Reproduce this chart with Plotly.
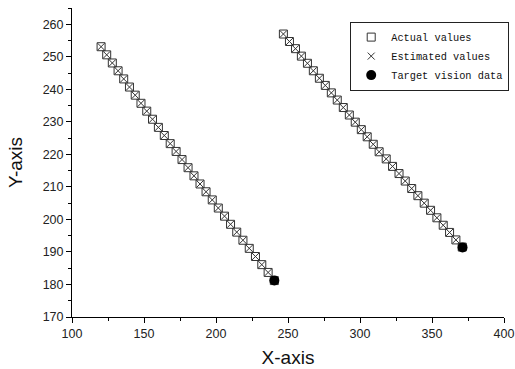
import plotly.graph_objects as go

# Left trajectory
left_x = [120.2, 124.1, 128.0, 132.0, 135.9, 139.9, 143.9, 147.9, 151.9, 155.9,
          160.0, 164.1, 168.2, 172.3, 176.4, 180.6, 184.7, 188.9, 193.1, 197.4,
          201.6, 205.9, 210.1, 214.4, 218.7, 223.1, 227.4, 231.8, 236.2, 240.5]
left_y = [253.1, 250.6, 248.1, 245.7, 243.2, 240.7, 238.2, 235.7, 233.3, 230.8,
          228.3, 225.8, 223.3, 220.9, 218.4, 215.9, 213.4, 210.9, 208.5, 206.0,
          203.5, 201.0, 198.5, 196.1, 193.6, 191.1, 188.6, 186.1, 183.7, 181.2]

# Right trajectory
right_x = [246.8, 251.0, 255.2, 259.3, 263.5, 267.6, 271.8, 275.9, 280.1, 284.2,
           288.4, 292.6, 296.7, 300.9, 305.0, 309.2, 313.3, 318.2, 322.6, 327.1,
           331.4, 335.9, 340.2, 344.6, 349.0, 353.4, 357.8, 362.2, 366.6, 371.0]
right_y = [257.0, 254.7, 252.5, 250.2, 248.0, 245.7, 243.4, 241.2, 238.9, 236.7,
           234.4, 232.1, 229.9, 227.6, 225.4, 223.1, 220.8, 218.6, 216.3, 214.1,
           211.8, 209.5, 207.3, 205.0, 202.8, 200.5, 198.2, 196.0, 193.7, 191.5]

actual_x = left_x + [None] + right_x
actual_y = left_y + [None] + right_y
estimated_x = left_x + [None] + right_x
estimated_y = left_y + [None] + right_y

target_x = [240.5, 371.2]
target_y = [181.2, 191.4]

x_ticks = [100, 150, 200, 250, 300, 350, 400]
y_ticks = [170, 180, 190, 200, 210, 220, 230, 240, 250, 260]

fig = go.Figure()
fig.add_trace(go.Scatter(
    x=actual_x, y=actual_y, mode="markers", name="Actual values",
    marker=dict(symbol="square-open", size=8, color="#333333",
                line=dict(width=1, color="#333333")),
))
fig.add_trace(go.Scatter(
    x=estimated_x, y=estimated_y, mode="markers", name="Estimated values",
    marker=dict(symbol="x-thin-open", size=7, color="#333333",
                line=dict(width=1, color="#333333")),
))
fig.add_trace(go.Scatter(
    x=target_x, y=target_y, mode="markers", name="Target vision data",
    marker=dict(symbol="circle", size=10, color="black"),
))

axis_font = dict(family="Liberation Sans, Arial, sans-serif", size=12.5, color="#222222")
title_font = dict(family="Liberation Sans, Arial, sans-serif", size=19, color="#111111")

fig.update_layout(
    width=515, height=369,
    margin=dict(l=71.5, r=11, t=8, b=52, autoexpand=False),
    paper_bgcolor="white", plot_bgcolor="white",
    showlegend=True,
    legend=dict(
        x=0.644, y=0.956, xanchor="left", yanchor="top",
        bgcolor="white", bordercolor="#222222", borderwidth=1,
        font=dict(family="Liberation Mono, Courier New, monospace", size=10.3, color="#111111"),
        itemwidth=30, tracegroupgap=0,
    ),
    xaxis=dict(
        range=[100, 400], tickvals=x_ticks, ticktext=[str(v) for v in x_ticks],
        showgrid=False, zeroline=False, showline=True, linecolor="black", linewidth=1,
        ticks="outside", ticklen=5, tickcolor="black", tickfont=axis_font,
        minor=dict(dtick=25, tick0=100, ticks="outside", ticklen=3, tickcolor="black"),
        title=dict(text="X-axis", font=title_font, standoff=10),
    ),
    yaxis=dict(
        range=[170, 265], tickvals=y_ticks, ticktext=[str(v) for v in y_ticks],
        showgrid=False, zeroline=False, showline=True, linecolor="black", linewidth=1,
        ticks="outside", ticklen=5, tickcolor="black", tickfont=axis_font,
        minor=dict(dtick=5, tick0=170, ticks="outside", ticklen=3, tickcolor="black"),
        title=dict(text="Y-axis", font=title_font, standoff=14),
    ),
)

fig.write_html("out.html", config={"displayModeBar": False},
               post_script="document.body.style.margin='0';")
